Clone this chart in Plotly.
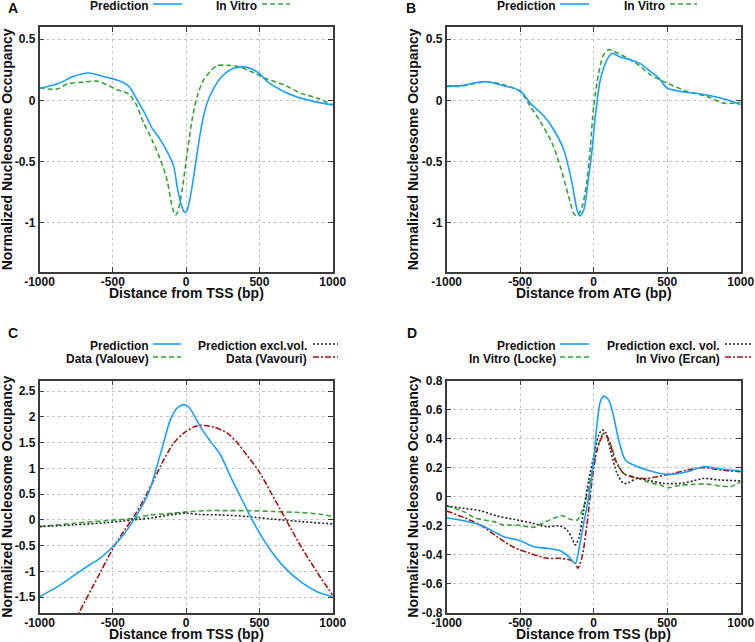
import plotly.graph_objects as go

# ---------------- Panel A (Distance from TSS) ----------------
a_pred_x = [-1000, -880, -766, -664, -584, -505, -448, -391, -334, -277, -232, -175, -118, -84, -61, -39, -11, 7, 41, 75, 109, 143, 189, 245, 302, 348, 416, 495, 552, 643, 757, 870, 1000]
a_pred_y = [0.10, 0.134, 0.197, 0.224, 0.202, 0.178, 0.156, 0.115, 0.005, -0.117, -0.227, -0.322, -0.445, -0.541, -0.705, -0.828, -0.915, -0.896, -0.705, -0.432, -0.186, -0.022, 0.101, 0.197, 0.251, 0.270, 0.270, 0.224, 0.156, 0.087, 0.027, -0.008, -0.038]
a_vitro_x = [-1000, -880, -811, -698, -607, -539, -470, -391, -345, -289, -232, -175, -130, -95, -73, -57, -27, 7, 41, 75, 120, 166, 211, 280, 348, 439, 552, 666, 780, 893, 1000]
a_vitro_y = [0.101, 0.093, 0.134, 0.150, 0.158, 0.128, 0.087, 0.052, -0.022, -0.186, -0.322, -0.486, -0.650, -0.869, -0.937, -0.910, -0.732, -0.432, -0.158, 0.033, 0.169, 0.238, 0.284, 0.287, 0.279, 0.238, 0.175, 0.128, 0.060, 0.019, -0.036]

# ---------------- Panel B (Distance from ATG) ----------------
b_pred_x = [-1000, -907, -816, -726, -612, -501, -431, -340, -272, -204, -147, -113, -95, -68, -34, -11, 11, 45, 91, 125, 181, 249, 317, 385, 442, 499, 590, 680, 794, 907, 1000]
b_pred_y = [0.120, 0.120, 0.142, 0.153, 0.120, 0.079, -0.022, -0.126, -0.240, -0.404, -0.678, -0.896, -0.945, -0.896, -0.623, -0.404, -0.131, 0.169, 0.333, 0.383, 0.355, 0.333, 0.301, 0.238, 0.183, 0.101, 0.074, 0.060, 0.038, 0.005, -0.036]
b_vitro_x = [-1000, -907, -816, -726, -612, -501, -431, -363, -283, -227, -170, -136, -113, -79, -45, -23, 0, 34, 68, 102, 136, 227, 317, 385, 499, 635, 771, 884, 1000]
b_vitro_y = [0.115, 0.115, 0.137, 0.153, 0.128, 0.074, -0.049, -0.172, -0.350, -0.541, -0.787, -0.923, -0.945, -0.869, -0.650, -0.377, -0.049, 0.224, 0.374, 0.415, 0.402, 0.347, 0.279, 0.210, 0.142, 0.074, 0.033, -0.022, -0.016]

# ---------------- Panel C (Distance from TSS) ----------------
c_pred_x = [-1000, -880, -766, -652, -600, -500, -425, -357, -289, -243, -198, -152, -107, -61, -16, 18, 64, 109, 166, 234, 302, 370, 439, 502, 575, 666, 780, 893, 1000]
c_pred_y = [-1.49, -1.30, -1.08, -0.86, -0.77, -0.52, -0.28, 0.0, 0.33, 0.62, 1.05, 1.51, 1.944, 2.171, 2.236, 2.19, 1.977, 1.75, 1.523, 1.264, 0.843, 0.454, 0.065, -0.26, -0.583, -0.907, -1.199, -1.393, -1.49]
c_valouev_x = [-1000, -766, -539, -357, -243, -130, 0, 143, 280, 416, 598, 780, 916, 1000]
c_valouev_y = [-0.13, -0.065, -0.013, 0.03, 0.097, 0.117, 0.156, 0.18, 0.18, 0.18, 0.162, 0.143, 0.11, 0.065]
c_excl_x = [-1000, -766, -539, -357, -220, -84, 0, 98, 234, 416, 598, 780, 1000]
c_excl_y = [-0.13, -0.097, -0.052, 0.0, 0.045, 0.11, 0.13, 0.104, 0.097, 0.065, 0.013, -0.032, -0.078]
c_vavouri_x = [-760, -730, -690, -640, -584, -540, -500, -425, -357, -289, -220, -152, -84, -16, 52, 98, 189, 280, 348, 416, 495, 575, 643, 711, 780, 850, 920, 1000]
c_vavouri_y = [-1.96, -1.80, -1.58, -1.31, -1.01, -0.77, -0.56, -0.22, 0.065, 0.389, 0.778, 1.167, 1.49, 1.685, 1.80, 1.834, 1.80, 1.685, 1.50, 1.25, 0.95, 0.55, 0.20, -0.15, -0.50, -0.82, -1.13, -1.46]

# ---------------- Panel D (Distance from TSS) ----------------
d_pred_x = [-1000, -884, -771, -680, -612, -501, -408, -317, -227, -170, -125, -102, -68, -34, 0, 23, 45, 68, 102, 136, 170, 215, 272, 363, 476, 544, 635, 748, 839, 930, 1000]
d_pred_y = [-0.145, -0.166, -0.195, -0.241, -0.276, -0.303, -0.345, -0.356, -0.372, -0.414, -0.46, -0.368, -0.184, 0.0, 0.253, 0.506, 0.655, 0.694, 0.667, 0.552, 0.391, 0.253, 0.218, 0.184, 0.156, 0.156, 0.172, 0.207, 0.195, 0.184, 0.179]
d_locke_x = [-1000, -884, -816, -748, -680, -612, -522, -408, -340, -272, -215, -159, -113, -68, -34, 0, 34, 68, 91, 125, 159, 204, 272, 363, 454, 510, 590, 680, 771, 862, 930, 1000]
d_locke_y = [-0.064, -0.103, -0.143, -0.161, -0.172, -0.195, -0.195, -0.211, -0.179, -0.149, -0.131, -0.156, -0.161, -0.069, 0.069, 0.23, 0.368, 0.437, 0.418, 0.333, 0.23, 0.161, 0.138, 0.103, 0.08, 0.062, 0.08, 0.085, 0.087, 0.074, 0.069, 0.103]
d_excl_x = [-1000, -884, -771, -658, -544, -431, -317, -227, -181, -147, -125, -102, -68, -34, 0, 34, 57, 79, 113, 159, 204, 238, 295, 385, 476, 590, 680, 748, 862, 1000]
d_excl_y = [-0.064, -0.08, -0.097, -0.133, -0.156, -0.179, -0.207, -0.202, -0.23, -0.287, -0.333, -0.287, -0.092, 0.115, 0.276, 0.425, 0.46, 0.448, 0.322, 0.161, 0.092, 0.097, 0.126, 0.11, 0.092, 0.092, 0.11, 0.126, 0.115, 0.11]
d_ercan_x = [-1000, -884, -771, -658, -544, -431, -317, -227, -159, -125, -109, -79, -45, -11, 23, 57, 73, 102, 147, 204, 272, 363, 431, 544, 635, 748, 862, 1000]
d_ercan_y = [-0.099, -0.143, -0.195, -0.276, -0.349, -0.391, -0.425, -0.425, -0.437, -0.46, -0.494, -0.414, -0.184, 0.115, 0.322, 0.414, 0.437, 0.391, 0.253, 0.161, 0.133, 0.126, 0.138, 0.161, 0.184, 0.2, 0.184, 0.172]

x_ticks = [-1000, -500, 0, 500, 1000]

W, H = 755, 642
BLUE = '#1a9fff'
GREEN = '#36a336'
RED = '#a31515'
BLACK = '#222222'
FONT = 'Liberation Sans'
DASHES = {'solid': 'solid', 'dash': '5px,3px', 'dot': '2px,2px', 'dashdot': '6px,2px,2px,2px'}

def px(x):
    return x / W

def py(y):
    return 1 - y / H

fig = go.Figure()

panels = {
    1: dict(xd=[39.5, 332.7], yd=[27, 271.7], yr=[-1.4, 0.6], yt=[-1, -0.5, 0, 0.5], ytl=['-1', '-0.5', '0', '0.5'], xt='Distance from TSS (bp)'),
    2: dict(xd=[446.7, 740.7], yd=[27, 271.7], yr=[-1.4, 0.6], yt=[-1, -0.5, 0, 0.5], ytl=['-1', '-0.5', '0', '0.5'], xt='Distance from ATG (bp)'),
    3: dict(xd=[39.5, 332.7], yd=[380.7, 612.7], yr=[-1.8, 2.7], yt=[-1.5, -1, -0.5, 0, 0.5, 1, 1.5, 2, 2.5], ytl=['-1.5', '-1', '-0.5', '0', '0.5', '1', '1.5', '2', '2.5'], xt='Distance from TSS (bp)'),
    4: dict(xd=[446.7, 740.7], yd=[380.7, 612.7], yr=[-0.8, 0.8], yt=[-0.8, -0.6, -0.4, -0.2, 0, 0.2, 0.4, 0.6, 0.8], ytl=['-0.8', '-0.6', '-0.4', '-0.2', '0', '0.2', '0.4', '0.6', '0.8'], xt='Distance from TSS (bp)'),
}

series = {
    1: [(a_vitro_x, a_vitro_y, GREEN, 'dash'), (a_pred_x, a_pred_y, BLUE, 'solid')],
    2: [(b_vitro_x, b_vitro_y, GREEN, 'dash'), (b_pred_x, b_pred_y, BLUE, 'solid')],
    3: [(c_valouev_x, c_valouev_y, GREEN, 'dash'), (c_excl_x, c_excl_y, BLACK, 'dot'),
        (c_vavouri_x, c_vavouri_y, RED, 'dashdot'), (c_pred_x, c_pred_y, BLUE, 'solid')],
    4: [(d_locke_x, d_locke_y, GREEN, 'dash'), (d_excl_x, d_excl_y, BLACK, 'dot'),
        (d_ercan_x, d_ercan_y, RED, 'dashdot'), (d_pred_x, d_pred_y, BLUE, 'solid')],
}

annotations = []
shapes = []

for i, p in panels.items():
    sfx = '' if i == 1 else str(i)
    for xs, ys, col, dash in series[i]:
        fig.add_trace(go.Scatter(x=xs, y=ys, mode='lines', xaxis='x' + sfx, yaxis='y' + sfx,
                                 line=dict(color=col, width=1.6, dash=DASHES[dash], shape='spline', smoothing=0.8),
                                 showlegend=False, hoverinfo='skip'))
    common = dict(showline=True, mirror='ticks', linecolor='#3a3a3a', linewidth=1.5,
                  ticks='inside', ticklen=5, tickcolor='#3a3a3a', tickwidth=1,
                  showgrid=True, gridcolor='#c4c4c4', griddash='dot', gridwidth=1,
                  zeroline=False, automargin=False,
                  tickfont=dict(family=FONT, size=12, color='#111111', weight='bold'))
    fig.update_layout(**{
        'xaxis' + sfx: dict(domain=[px(p['xd'][0]), px(p['xd'][1])], range=[-1000, 1000],
                            tickvals=x_ticks, ticktext=[str(v) for v in x_ticks],
                            anchor='y' + sfx, ticklabelstandoff=-2, **common),
        'yaxis' + sfx: dict(domain=[py(p['yd'][1]), py(p['yd'][0])], range=p['yr'],
                            tickvals=p['yt'], ticktext=p['ytl'], anchor='x' + sfx, **common),
    })
    # axis titles
    cx = (p['xd'][0] + p['xd'][1]) / 2
    cy = (p['yd'][0] + p['yd'][1]) / 2
    annotations.append(dict(x=px(cx), y=py(p['yd'][1] + 21.5), xref='paper', yref='paper',
                            text='<b>' + p['xt'] + '</b>', showarrow=False,
                            font=dict(family=FONT, size=14, color='#111111'),
                            xanchor='center', yanchor='middle'))
    ytx = 7 if p['xd'][0] < 100 else 413
    annotations.append(dict(x=px(ytx), y=py(cy), xref='paper', yref='paper',
                            text='<b>Normalized Nucleosome Occupancy</b>', showarrow=False, textangle=-90,
                            font=dict(family=FONT, size=14, color='#111111'),
                            xanchor='center', yanchor='middle'))

# panel letters
for letter, (lx, ly) in {'A': (12.5, 8), 'B': (411, 8), 'C': (12.5, 333), 'D': (412, 333)}.items():
    annotations.append(dict(x=px(lx), y=py(ly), xref='paper', yref='paper', text='<b>' + letter + '</b>',
                            showarrow=False, font=dict(family=FONT, size=14, color='#111111'),
                            xanchor='center', yanchor='middle'))

# legends: (text, text right edge, sample x0, sample x1, y, color, dash)
legend_items = [
    ('Prediction', 151, 153, 182, 5.5, BLUE, 'solid'),
    ('In Vitro', 259, 262, 290, 5.5, GREEN, 'dash'),
    ('Prediction', 558, 560, 589, 5.5, BLUE, 'solid'),
    ('In Vitro', 667, 670, 697, 5.5, GREEN, 'dash'),
    ('Prediction', 151, 153, 181, 345.5, BLUE, 'solid'),
    ('Data (Valouev)', 151, 153, 181, 358.5, GREEN, 'dash'),
    ('Prediction excl.vol.', 309, 313, 338, 345.5, BLACK, 'dot'),
    ('Data (Vavouri)', 309, 313, 338, 358.5, RED, 'dashdot'),
    ('Prediction', 558, 560, 589, 345.5, BLUE, 'solid'),
    ('In Vitro (Locke)', 558, 560, 589, 358.5, GREEN, 'dash'),
    ('Prediction excl. vol.', 722, 725, 751, 345.5, BLACK, 'dot'),
    ('In Vivo (Ercan)', 722, 725, 751, 358.5, RED, 'dashdot'),
]
for txt, tx, s0, s1, yy, col, dash in legend_items:
    annotations.append(dict(x=px(tx), y=py(yy), xref='paper', yref='paper', text='<b>' + txt + '</b>',
                            showarrow=False, font=dict(family=FONT, size=12, color='#111111'),
                            xanchor='right', yanchor='middle'))
    shapes.append(dict(type='line', xref='paper', yref='paper', x0=px(s0), x1=px(s1),
                       y0=py(yy - 1.5), y1=py(yy - 1.5), line=dict(color=col, width=1.6, dash=DASHES[dash])))

fig.update_layout(width=W, height=H, margin=dict(l=0, r=0, t=0, b=0),
                  paper_bgcolor='white', plot_bgcolor='white',
                  annotations=annotations, shapes=shapes, showlegend=False,
                  font=dict(family=FONT, color='#111111'))

fig.write_html('out.html', config={'displayModeBar': False},
               post_script="document.body.style.margin='0';document.body.style.padding='0';"
                           "document.body.style.overflow='hidden';")
